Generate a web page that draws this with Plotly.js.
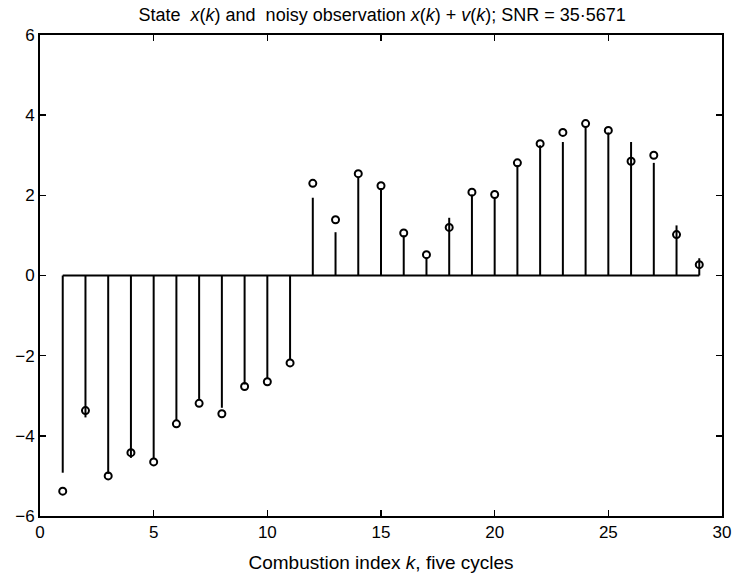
<!DOCTYPE html>
<html>
<head>
<meta charset="utf-8">
<script src="https://cdn.plot.ly/plotly-3.0.1.min.js"></script>
<style>html,body{margin:0;padding:0;background:#fff;}#chart{width:735px;height:578px;}</style>
</head>
<body>
<div id="chart"></div>
<script>
// Combustion index k
const k = [1,2,3,4,5,6,7,8,9,10,11,12,13,14,15,16,17,18,19,20,21,22,23,24,25,26,27,28,29];
// State x(k) (stem heights)
const state = [-4.92,-3.54,-4.95,-4.55,-4.58,-3.63,-3.08,-3.30,-2.72,-2.57,-2.10,
               1.94,1.08,2.46,2.18,1.00,0.45,1.44,2.02,1.95,2.75,3.25,3.33,3.72,3.57,3.33,2.81,1.25,0.43];
// Noisy observation x(k)+v(k) (circles)
const observed = [-5.38,-3.37,-5.00,-4.42,-4.65,-3.70,-3.19,-3.45,-2.77,-2.65,-2.18,
                  2.30,1.39,2.54,2.24,1.06,0.52,1.20,2.08,2.02,2.81,3.29,3.57,3.79,3.62,2.85,3.00,1.02,0.27];
const xTicks = [0,5,10,15,20,25,30];
const yTicks = [-6,-4,-2,0,2,4,6];
const yTickText = yTicks.map(v => v < 0 ? '\u2212' + Math.abs(v) : String(v));

const stemX = [], stemY = [];
k.forEach((kk, i) => { stemX.push(kk, kk, null); stemY.push(0, state[i], null); });

const traces = [
  {x: [k[0], k[k.length-1]], y: [0, 0], mode: 'lines', line: {color: '#000', width: 2}, hoverinfo: 'skip'},
  {x: stemX, y: stemY, mode: 'lines', line: {color: '#000', width: 2}, hoverinfo: 'skip'},
  {x: k, y: observed, mode: 'markers',
   marker: {symbol: 'circle-open', size: 7, color: '#000', line: {width: 2, color: '#000'}}}
];

const font = {family: 'Liberation Sans, Arial, sans-serif', color: '#000'};
const layout = {
  width: 735, height: 578,
  margin: {l: 40, r: 13, t: 35, b: 62},
  paper_bgcolor: '#fff', plot_bgcolor: '#fff',
  showlegend: false,
  font: font,
  title: {
    text: 'State  <i>x</i>(<i>k</i>) and  noisy observation <i>x</i>(<i>k</i>) + <i>v</i>(<i>k</i>); SNR = 35·5671',
    font: {family: font.family, size: 18, color: '#000'},
    x: 0.52, xanchor: 'center', y: 0.975, yanchor: 'middle'
  },
  xaxis: {
    range: [0, 30], tickvals: xTicks, ticktext: xTicks.map(String),
    ticks: 'inside', ticklen: 6, tickwidth: 1.5, tickcolor: '#000',
    showline: true, linecolor: '#000', linewidth: 2, mirror: 'ticks',
    showgrid: false, zeroline: false,
    tickfont: {family: font.family, size: 17, color: '#000'},
    title: {text: 'Combustion index <i>k</i>, five cycles', font: {family: font.family, size: 19, color: '#000'}, standoff: 14}
  },
  yaxis: {
    range: [-6, 6], tickvals: yTicks, ticktext: yTickText,
    ticks: 'inside', ticklen: 6, tickwidth: 1.5, tickcolor: '#000',
    showline: true, linecolor: '#000', linewidth: 2, mirror: 'ticks',
    showgrid: false, zeroline: false,
    tickfont: {family: font.family, size: 17, color: '#000'}
  }
};

Plotly.newPlot('chart', traces, layout, {displayModeBar: false, staticPlot: true});
</script>
</body>
</html>
